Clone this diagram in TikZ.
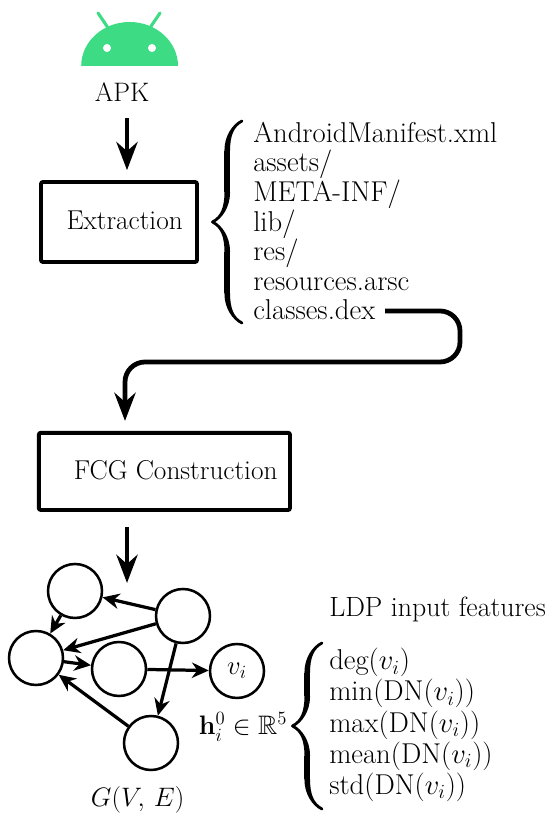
\documentclass[tikz,border=0pt]{standalone}
\usepackage{fix-cm}
\usepackage{amsmath,amssymb}
\usetikzlibrary{arrows.meta,decorations.pathreplacing,calligraphy}
\definecolor{androidgreen}{HTML}{3DDC84}
\tikzset{
    bigtext/.style={font=\fontsize{19}{21}\selectfont},
    listtext/.style={font=\fontsize{20.4}{21}\selectfont,inner sep=0pt,anchor=west,align=left},
    stagebox/.style={draw,line width=2.8pt,rounded corners=1.5pt,font=\fontsize{19.4}{21}\selectfont},
    flow/.style={line width=3.4pt,-{Stealth[length=20pt,width=15pt]}},
    vertex/.style={draw,circle,line width=1.8pt,minimum size=1.35cm,inner sep=0pt},
    edge/.style={line width=2.3pt,-{Stealth[length=12pt,width=11pt]}},
    bigbrace/.style={decorate,line width=4pt,decoration={calligraphic brace,amplitude=21pt}},
}
\begin{document}
\begin{tikzpicture}
    \useasboundingbox (0,0) rectangle (13.75,20.525);
    % android head
    \fill[androidgreen] (2.03,18.875) arc[start angle=180,end angle=0,x radius=1.21,y radius=1.1] -- cycle;
    \draw[androidgreen,line width=2.2pt,line cap=round] (2.45,20.2) -- (2.72,19.8);
    \draw[androidgreen,line width=2.2pt,line cap=round] (4.0,20.2) -- (3.73,19.8);
    \fill[white] (2.675,19.325) circle (0.1);
    \fill[white] (3.8,19.325) circle (0.1);
    \node[bigtext] (apk) at (3.05,18.225) {APK};
    % stages
    \node[stagebox,minimum width=3.9cm,minimum height=2cm] (extraction) at (2.975,14.975) {\hspace*{8pt}\raisebox{2.5pt}{Extraction}};
    \node[stagebox,minimum width=6.28cm,minimum height=1.93cm] (fcg) at (4.11,8.74) {\hspace*{16pt}\raisebox{2.5pt}{FCG Construction}};
    \coordinate (apkout) at (3.175,17.575);
    \draw[flow,shorten >=7pt] (apkout) -- (apkout |- extraction.north);
    % file list
    \node[listtext] (files) at (6.325,15.0) {AndroidManifest.xml\\assets/\\META-INF/\\lib/\\res/\\resources.arsc\\classes.dex};
    \coordinate (bracelow) at (6.05,12.45);
    \coordinate (bracehigh) at (6.05,17.5);
    \draw[bigbrace] (bracelow) -- (bracehigh);
    \coordinate (dexout) at (9.625,12.75);
    \coordinate (bendright) at (11.5,12.75);
    \coordinate (bendlow) at (11.5,11.475);
    \coordinate (bendleft) at (3.125,11.475);
    \draw[flow,rounded corners=0.5cm,shorten >=7pt] (dexout) -- (bendright) -- (bendlow) -- (bendleft) -- (bendleft |- fcg.north);
    \coordinate (graphout) at (3.175,7.35);
    \coordinate (graphin) at (3.175,5.95);
    \draw[flow] (graphout) -- (graphin);
    % graph
    \node[vertex] (n1) at (1.875,5.75) {};
    \node[vertex] (n2) at (4.575,5.125) {};
    \node[vertex] (n3) at (0.9,4.075) {};
    \node[vertex] (n4) at (2.975,3.8) {};
    \node[vertex,bigtext] (vi) at (5.925,3.75) {$v_i$};
    \node[vertex] (n5) at (3.775,1.95) {};
    \draw[edge] (n2) -- (n1);
    \draw[edge] (n1) -- (n3);
    \draw[edge] (n2) -- (n3);
    \draw[edge] (n3) -- (n4);
    \draw[edge] (n4) -- (vi);
    \draw[edge] (n2) -- (n5);
    \draw[edge] (n5) -- (n3);
    \node[bigtext] (gve) at (3.44,0.525) {$G(V,\,E)$};
    \node[bigtext] (hvec) at (6.075,2.35) {$\mathbf{h}_i^0\in\mathbb{R}^5$};
    % features
    \node[listtext,font=\fontsize{19.8}{21}\selectfont] (ldp) at (8.225,5.3) {LDP input features};
    \node[listtext,font=\fontsize{20.4}{22.2}\selectfont] (feats) at (8.225,2.4) {deg$(v_i)$\\min$(\mathrm{DN}(v_i))$\\max$(\mathrm{DN}(v_i))$\\mean$(\mathrm{DN}(v_i))$\\std$(\mathrm{DN}(v_i))$};
    \coordinate (featlow) at (8.05,0.3);
    \coordinate (feathigh) at (8.05,4.45);
    \draw[bigbrace] (featlow) -- (feathigh);
\end{tikzpicture}
\end{document}
